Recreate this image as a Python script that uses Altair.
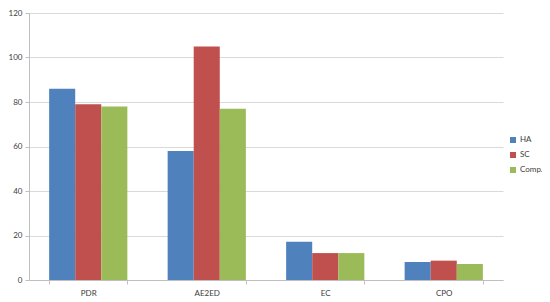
import altair as alt
import pandas as pd

categories = ["PDR", "AE2ED", "EC", "CPO"]
series = ["HA", "SC", "Comp."]
ha = [86, 58, 17.2, 8.1]
sc = [79, 105, 12.1, 8.7]
comp = [78, 77, 12.1, 7.2]
colors = ["#4F81BD", "#C0504D", "#9BBB59"]
y_ticks = [0, 20, 40, 60, 80, 100, 120]

rows = []
for name, vals in zip(series, [ha, sc, comp]):
    for c, v in zip(categories, vals):
        rows.append({"cat": c, "series": name, "value": v})
df = pd.DataFrame(rows)

font = "Lato"

chart = alt.Chart(df).mark_bar().encode(
    x=alt.X("cat:N", sort=categories, title=None,
            scale=alt.Scale(paddingInner=0.34, paddingOuter=0.17),
            axis=alt.Axis(labelAngle=0, tickBand="extent", domainColor="#BFBFBF",
                          tickColor="#BFBFBF", tickSize=4, labelFont=font,
                          labelFontSize=8, labelColor="#404040", labelPadding=5)),
    xOffset=alt.XOffset("series:N", sort=series),
    y=alt.Y("value:Q", title=None,
            scale=alt.Scale(domain=[0, 120], nice=False),
            axis=alt.Axis(values=y_ticks, domainColor="#BFBFBF", tickColor="#BFBFBF",
                          tickSize=4, gridColor="#D9D9D9", labelFont=font,
                          labelFontSize=8, labelColor="#404040", labelPadding=3)),
    color=alt.Color("series:N", sort=series,
                    scale=alt.Scale(domain=series, range=colors),
                    legend=alt.Legend(title=None, orient="none", legendX=480, legendY=123,
                                      symbolType="square", symbolSize=36,
                                      symbolStrokeWidth=0, labelFont=font,
                                      labelFontSize=8, labelColor="#404040",
                                      rowPadding=7, labelOffset=3)),
).properties(
    width=474, height=267,
    autosize=alt.AutoSizeParams(type="none"),
    padding={"left": 21, "top": 5, "right": 39, "bottom": 22},
).configure_view(stroke=None)

chart.save("out.html", embed_options={"renderer": "svg", "actions": False})
